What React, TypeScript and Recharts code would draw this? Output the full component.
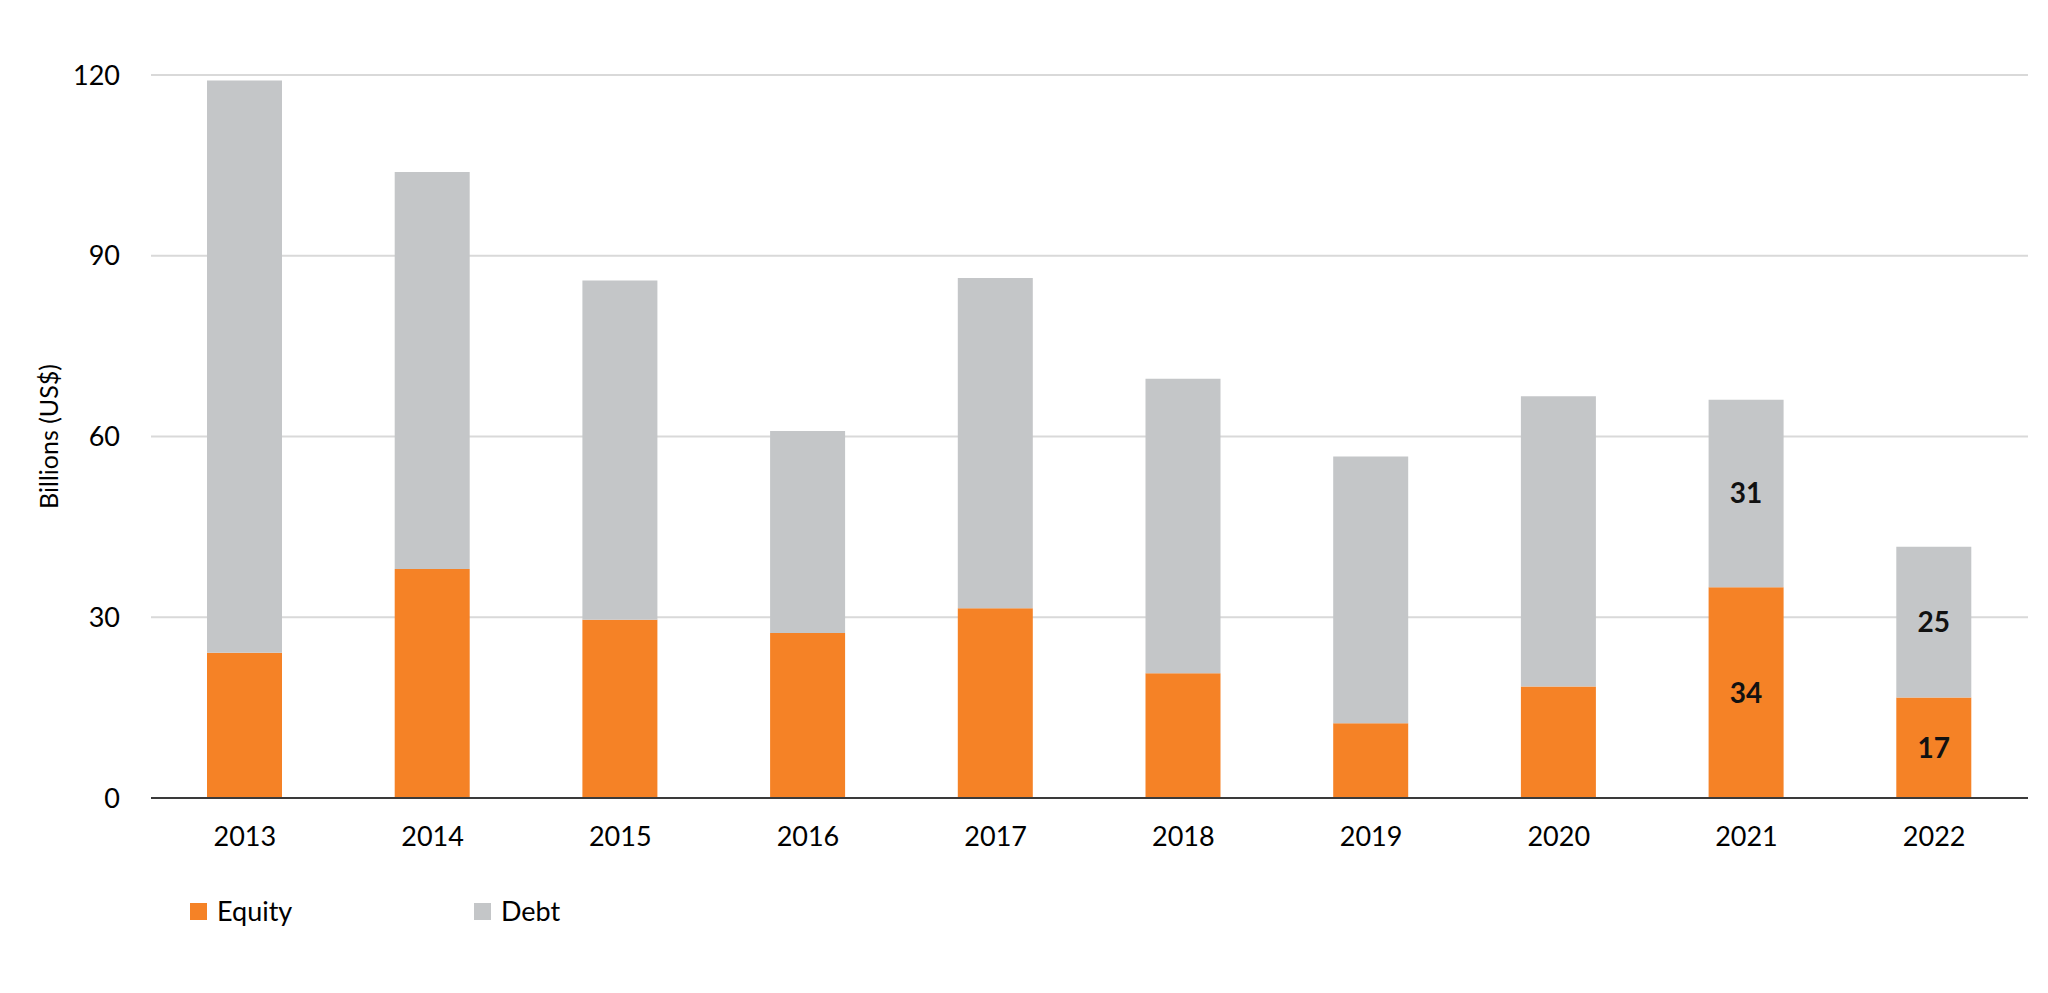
import React from 'react';
import {
  BarChart,
  Bar,
  XAxis,
  YAxis,
  CartesianGrid,
  Legend,
  LabelList
} from 'recharts';

const years = ['2013', '2014', '2015', '2016', '2017', '2018', '2019', '2020', '2021', '2022'];
const equity = [24.1, 38.0, 29.6, 27.4, 31.5, 20.7, 12.4, 18.5, 35.0, 16.7];
const debt = [95.0, 65.9, 56.3, 33.5, 54.8, 48.9, 44.3, 48.2, 31.1, 25.0];
const equityLabels = [null, null, null, null, null, null, null, null, '34', '17'];
const debtLabels = [null, null, null, null, null, null, null, null, '31', '25'];
const yTicks = [0, 30, 60, 90, 120];
const legendOrder = ['Equity', 'Debt'];

const data = years.map((year, i) => ({
  year,
  equity: equity[i],
  debt: debt[i],
  equityLabel: equityLabels[i],
  debtLabel: debtLabels[i]
}));

const FONT = 'Lato, "Open Sans", sans-serif';
const ORANGE = '#F58226';
const GREY = '#C4C6C8';

// legend sits under the plot, left aligned, items on a fixed pitch
const renderLegend = (props: any) => {
  const items = legendOrder
    .map(name => props.payload.find((p: any) => p.value === name))
    .filter(Boolean);
  return (
    <div style={{ display: 'flex', fontFamily: FONT, fontSize: 27, color: '#000', lineHeight: '32px' }}>
      {items.map((entry: any) => (
        <div key={entry.value} style={{ width: 284, display: 'flex', alignItems: 'center' }}>
          <span style={{ width: 17, height: 17, background: entry.color, marginRight: 10, display: 'inline-block' }} />
          <span>{entry.value}</span>
        </div>
      ))}
    </div>
  );
};

export default function App() {
  return (
    <div style={{ width: 2032, height: 977, background: '#fff' }}>
      <BarChart
        width={2032}
        height={977}
        data={data}
        margin={{ top: 67, right: 12, left: 0, bottom: 125 }}
        barSize={75}
      >
        <CartesianGrid vertical={false} stroke="#D9D9D9" strokeWidth={2} />
        <XAxis
          dataKey="year"
          height={30}
          tickLine={false}
          axisLine={{ stroke: '#3a3a3a', strokeWidth: 2 }}
          tick={{ fontFamily: FONT, fontSize: 27, fill: '#000' }}
          tickMargin={23}
        />
        <YAxis
          width={143}
          domain={[0, 120]}
          ticks={yTicks}
          tickLine={false}
          axisLine={false}
          tick={{ fontFamily: FONT, fontSize: 27, fill: '#000' }}
          tickMargin={25}
          label={{
            value: 'Billions (US$)',
            angle: -90,
            position: 'insideLeft',
            offset: 41,
            style: { textAnchor: 'middle', fontFamily: FONT, fontSize: 25, fill: '#000' }
          }}
        />
        <Legend
          verticalAlign="bottom"
          align="left"
          content={renderLegend}
          wrapperStyle={{ left: 182, top: 887, width: 700 }}
        />
        <Bar dataKey="equity" name="Equity" stackId="a" fill={ORANGE} isAnimationActive={false}>
          <LabelList
            dataKey="equityLabel"
            position="center"
            style={{ fontFamily: FONT, fontSize: 28, fontWeight: 700, fill: '#111' }}
          />
        </Bar>
        <Bar dataKey="debt" name="Debt" stackId="a" fill={GREY} isAnimationActive={false}>
          <LabelList
            dataKey="debtLabel"
            position="center"
            style={{ fontFamily: FONT, fontSize: 28, fontWeight: 700, fill: '#111' }}
          />
        </Bar>
      </BarChart>
    </div>
  );
}
